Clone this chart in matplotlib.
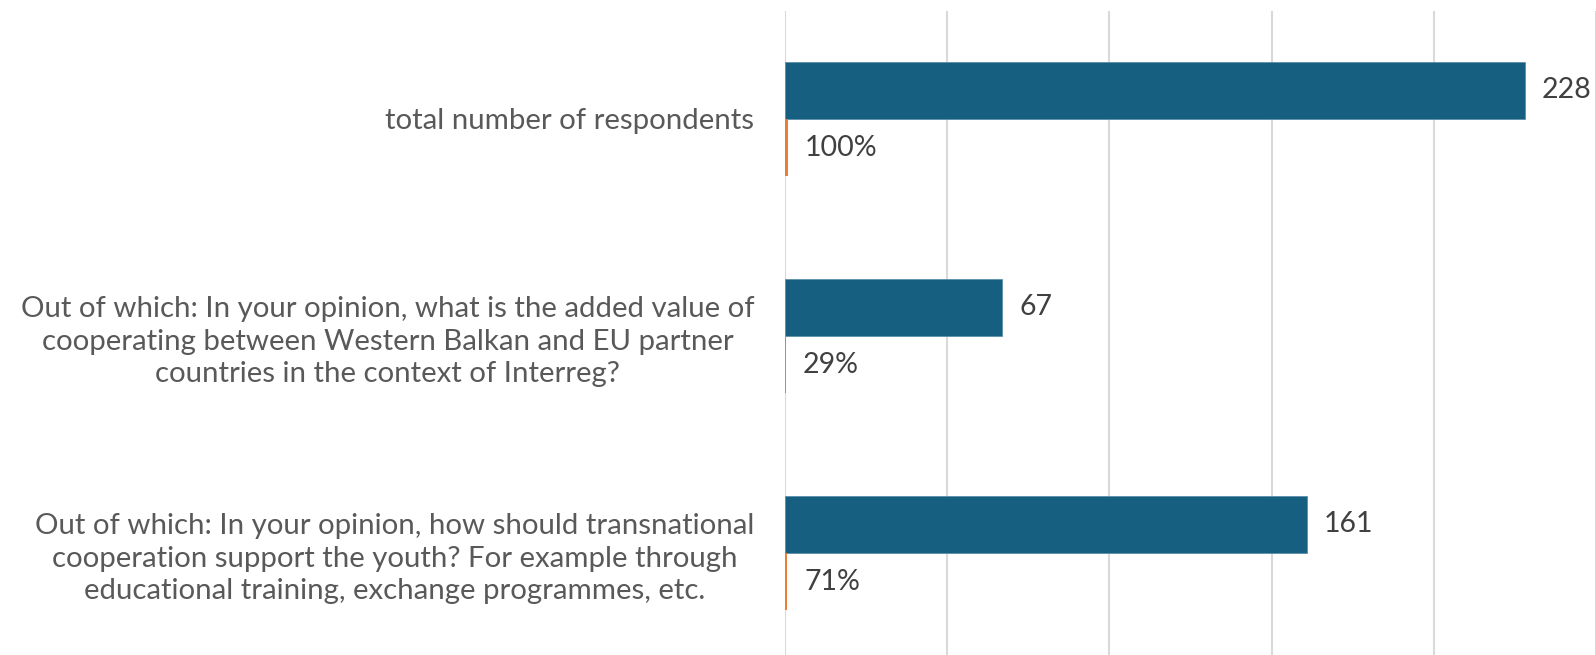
import matplotlib
matplotlib.use("Agg")
import matplotlib.pyplot as plt
import numpy as np

categories = [
    "total number of respondents",
    "Out of which: In your opinion, what is the added value of\ncooperating between Western Balkan and EU partner\ncountries in the context of Interreg?",
    "Out of which: In your opinion, how should transnational\ncooperation support the youth? For example through\neducational training, exchange programmes, etc.",
]
counts = [228, 67, 161]
shares = [1.00, 0.29, 0.71]
share_labels = ["100%", "29%", "71%"]
xticks = [0, 50, 100, 150, 200, 250]

plt.rcParams['font.family'] = ['Lato', 'DejaVu Sans']

W, H = 1596, 655
fig = plt.figure(figsize=(W / 100, H / 100), dpi=100)
left_px, right_px = 785, 1596
top_px, bottom_px = 10.5, 661.5
ax = fig.add_axes([left_px / W, 1 - bottom_px / H, (right_px - left_px) / W, (bottom_px - top_px) / H])

y = np.arange(len(categories))
bh = 0.2627
blue = "#175F80"
orange = "#ED7D31"
ax.barh(y - bh / 2, counts, height=bh, color=blue, edgecolor="#5B8FAA", linewidth=0.6, zorder=3)
ax.barh(y + bh / 2, shares, height=bh, color=orange, linewidth=0, zorder=3)

for yi, c in zip(y, counts):
    ax.text(c + 5.2, yi - bh / 2, str(c), va="center", ha="left", fontsize=20.5, color="#404040")
for yi, s, lab in zip(y, shares, share_labels):
    ax.text(s + 5.2, yi + bh / 2, lab, va="center", ha="left", fontsize=20.5, color="#404040")

ax.set_xlim(0, (right_px - left_px) / 3.259)
ax.set_ylim(2.5, -0.5)
ax.set_xticks(xticks)
ax.xaxis.grid(True, color="#D9D9D9", linewidth=1.5, zorder=0)
ax.tick_params(axis="x", bottom=False, labelbottom=False)
ax.set_yticks(y)
ax.set_yticklabels(categories, fontsize=21.2, color="#595959", ha="right",
                   multialignment="center", linespacing=1.3)
ax.tick_params(axis="y", left=False, pad=18.5)
for sp in ax.spines.values():
    sp.set_visible(False)

fig.savefig("out.png", dpi=100)
